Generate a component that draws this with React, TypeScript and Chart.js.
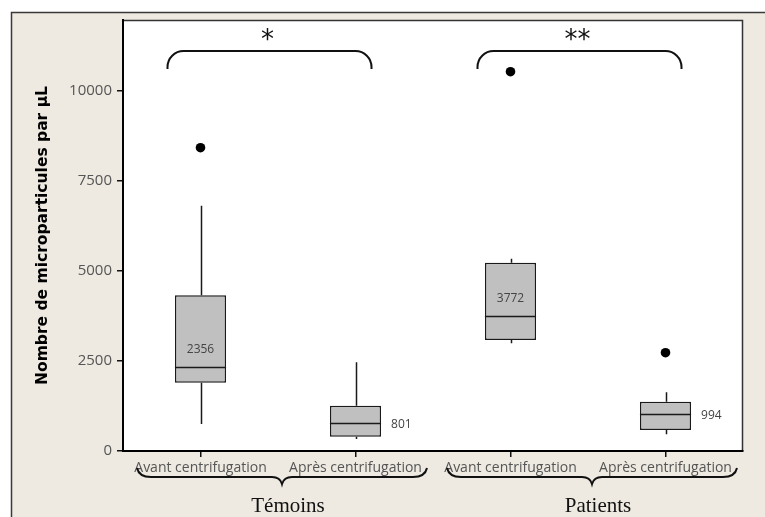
import React, { useEffect, useRef } from 'react';
import { Chart, registerables } from 'chart.js';

Chart.register(...registerables);

// ---------- data ----------
const categories = ['Avant centrifugation', 'Après centrifugation', 'Avant centrifugation', 'Après centrifugation'];
const groups = ['Témoins', 'Patients'];
const groupSizes = [2, 2];
const significance = ['*', '**'];
const whiskerLow = [750, 333, 2992, 464];
const q1 = [1897, 397, 3083, 583];
const median = [2342, 786, 3758, 1019];
const q3 = [4325, 1258, 5231, 1370];
const whiskerHigh = [6814, 2464, 5342, 1631];
const outliers: number[][] = [[8425], [], [10536], [2731]];
const medianLabels = ['2356', '801', '3772', '994'];
const medianLabelInside = [true, false, true, false];
const yTicks = [0, 2500, 5000, 7500, 10000];
const yMax = 11972;
const yTitle = 'Nombre de microparticules par µL';

const BEIGE = '#EEEAE1';
const SANS = '"Open Sans", "DejaVu Sans", sans-serif';
const SERIF = '"Liberation Serif", "Times New Roman", serif';

const framePlugin = {
  id: 'frame',
  beforeDraw(chart: any) {
    const { ctx, width, height, chartArea } = chart;
    ctx.save();
    ctx.fillStyle = '#ffffff';
    ctx.fillRect(0, 0, width, height);
    ctx.fillStyle = BEIGE;
    ctx.fillRect(11, 12, width - 11, height - 12);
    ctx.strokeStyle = '#3a3a3a';
    ctx.lineWidth = 1.5;
    ctx.beginPath();
    ctx.moveTo(11.5, height);
    ctx.lineTo(11.5, 12.5);
    ctx.lineTo(width, 12.5);
    ctx.stroke();
    ctx.fillStyle = '#ffffff';
    ctx.fillRect(chartArea.left, chartArea.top, chartArea.right - chartArea.left, chartArea.bottom - chartArea.top);
    ctx.strokeStyle = '#333333';
    ctx.lineWidth = 1.5;
    ctx.beginPath();
    ctx.moveTo(chartArea.left, chartArea.top + 0.5);
    ctx.lineTo(chartArea.right - 0.5, chartArea.top + 0.5);
    ctx.lineTo(chartArea.right - 0.5, chartArea.bottom);
    ctx.stroke();
    ctx.restore();
  },
};

const boxPlugin = {
  id: 'boxParts',
  beforeDatasetsDraw(chart: any) {
    const { ctx } = chart;
    const x = chart.scales.x;
    const y = chart.scales.y;
    ctx.save();
    ctx.strokeStyle = '#1a1a1a';
    ctx.lineWidth = 1.5;
    categories.forEach((_, i) => {
      const px = Math.round(x.getPixelForValue(i)) + 0.5;
      ctx.beginPath();
      ctx.moveTo(px, y.getPixelForValue(whiskerLow[i]));
      ctx.lineTo(px, y.getPixelForValue(q1[i]));
      ctx.moveTo(px, y.getPixelForValue(q3[i]));
      ctx.lineTo(px, y.getPixelForValue(whiskerHigh[i]));
      ctx.stroke();
    });
    ctx.restore();
  },
  afterDatasetsDraw(chart: any) {
    const { ctx } = chart;
    const y = chart.scales.y;
    const meta = chart.getDatasetMeta(0);
    ctx.save();
    meta.data.forEach((bar: any, i: number) => {
      const half = bar.width / 2;
      const my = Math.round(y.getPixelForValue(median[i])) + 0.5;
      ctx.strokeStyle = '#1a1a1a';
      ctx.lineWidth = 1.5;
      ctx.beginPath();
      ctx.moveTo(bar.x - half, my);
      ctx.lineTo(bar.x + half, my);
      ctx.stroke();
      ctx.fillStyle = '#444444';
      ctx.font = `12px ${SANS}`;
      ctx.textBaseline = 'middle';
      if (medianLabelInside[i]) {
        ctx.textAlign = 'center';
        ctx.fillText(medianLabels[i], bar.x, my - 18);
      } else {
        ctx.textAlign = 'left';
        ctx.fillText(medianLabels[i], bar.x + half + 10, my + 1);
      }
    });
    ctx.restore();
  },
};

const annotationPlugin = {
  id: 'annotations',
  afterDraw(chart: any) {
    const { ctx } = chart;
    const x = chart.scales.x;
    const step = x.getPixelForValue(1) - x.getPixelForValue(0);
    ctx.save();
    ctx.strokeStyle = '#111111';
    ctx.fillStyle = '#111111';
    ctx.lineWidth = 2;
    let start = 0;
    groups.forEach((g, gi) => {
      const end = start + groupSizes[gi] - 1;
      const c0 = x.getPixelForValue(start);
      const c1 = x.getPixelForValue(end);
      // top significance bracket
      const x1 = c0 - 33;
      const x2 = c1 + 16;
      const r = 16;
      const yt = 51;
      const yb = 69;
      ctx.beginPath();
      ctx.moveTo(x1, yb);
      ctx.lineTo(x1, yt + r);
      ctx.arcTo(x1, yt, x1 + r, yt, r);
      ctx.lineTo(x2 - r, yt);
      ctx.arcTo(x2, yt, x2, yt + r, r);
      ctx.lineTo(x2, yb);
      ctx.stroke();
      ctx.font = `26px "DejaVu Sans", sans-serif`;
      ctx.textAlign = 'center';
      ctx.textBaseline = 'middle';
      ctx.fillText(significance[gi], (x1 + x2) / 2 - 2, 41);

      // bottom curly brace
      const bl = c0 - step / 2 + 14;
      const br = c1 + step / 2 - 6;
      const bm = (bl + br) / 2;
      const ly = 477;
      const ey = 468;
      const ty = 484;
      ctx.lineWidth = 2;
      ctx.beginPath();
      ctx.moveTo(bl, ey);
      ctx.quadraticCurveTo(bl + 2, ly, bl + 14, ly);
      ctx.lineTo(bm - 10, ly);
      ctx.quadraticCurveTo(bm - 2, ly, bm, ty);
      ctx.quadraticCurveTo(bm + 2, ly, bm + 10, ly);
      ctx.lineTo(br - 14, ly);
      ctx.quadraticCurveTo(br - 2, ly, br, ey);
      ctx.stroke();

      ctx.font = `21px ${SERIF}`;
      ctx.textAlign = 'center';
      ctx.textBaseline = 'middle';
      ctx.fillText(g, bm + 6, 506);
      start = end + 1;
    });
    ctx.restore();
  },
};

export default function App() {
  const ref = useRef<HTMLCanvasElement>(null);
  useEffect(() => {
    if (!ref.current) return;
    const maxOut = Math.max(...outliers.map((o) => o.length));
    const outlierSets = [] as any[];
    for (let k = 0; k < maxOut; k++) {
      outlierSets.push({
        type: 'line',
        data: outliers.map((o) => (o[k] !== undefined ? o[k] : null)),
        showLine: false,
        pointRadius: 4.8,
        pointBackgroundColor: '#000000',
        pointBorderWidth: 0,
        borderColor: '#000000',
      });
    }
    const chart = new Chart(ref.current, {
      type: 'bar',
      data: {
        labels: categories,
        datasets: [
          {
            type: 'bar',
            data: q1.map((v, i) => [v, q3[i]]) as any,
            backgroundColor: '#C0C0C0',
            borderColor: '#1a1a1a',
            borderWidth: 1.5,
            borderSkipped: false,
            barPercentage: 0.33,
            categoryPercentage: 1,
          },
          ...outlierSets,
        ],
      },
      options: {
        animation: false,
        responsive: false,
        devicePixelRatio: 1,
        layout: { padding: { left: 0, top: 20, right: 22, bottom: 0 } },
        plugins: { legend: { display: false }, tooltip: { enabled: false } },
        scales: {
          x: {
            offset: true,
            grid: { offset: false, drawOnChartArea: false, drawTicks: true, tickLength: 6, color: '#111111', lineWidth: 1.5 },
            border: { display: true, color: '#000000', width: 2 },
            ticks: {
              autoSkip: false,
              maxRotation: 0,
              padding: 3,
              color: '#555555',
              font: { family: SANS, size: 14 },
            },
            afterFit(scale: any) {
              scale.height = 66;
            },
          },
          y: {
            min: 0,
            max: yMax,
            grid: { drawOnChartArea: false, drawTicks: true, tickLength: 6, color: '#111111', lineWidth: 1.5 },
            border: { display: true, color: '#000000', width: 2 },
            ticks: {
              padding: 5,
              color: '#555555',
              font: { family: SANS, size: 15 },
              callback: (v: any) => String(v),
            },
            afterBuildTicks(scale: any) {
              scale.ticks = yTicks.map((v) => ({ value: v }));
            },
            afterFit(scale: any) {
              scale.width = 123;
            },
            title: {
              display: true,
              text: yTitle,
              color: '#000000',
              font: { family: '"DejaVu Sans", sans-serif', size: 15.5, weight: 'bold' },
              padding: { top: 34, bottom: 0 },
            },
          },
        },
      },
      plugins: [framePlugin, boxPlugin, annotationPlugin],
    } as any);
    return () => chart.destroy();
  }, []);
  return (
    <div style={{ position: 'fixed', left: 0, top: 0, width: 765, height: 517 }}>
      <canvas ref={ref} width={765} height={517} style={{ width: 765, height: 517, display: 'block' }} />
    </div>
  );
}
